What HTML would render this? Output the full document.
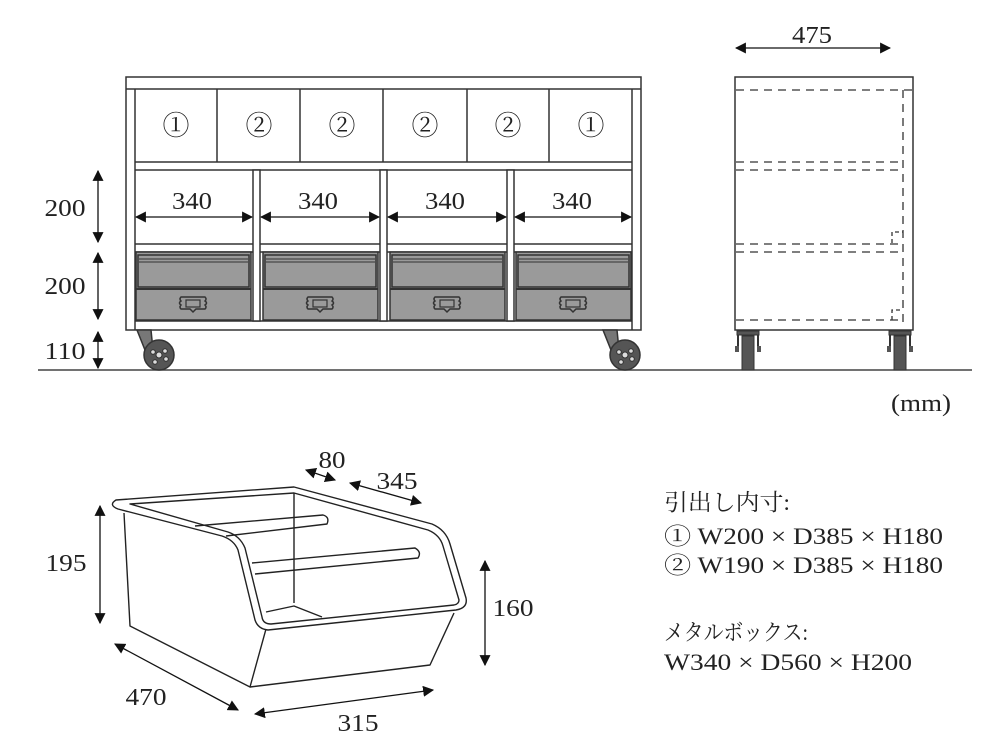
<!DOCTYPE html>
<html><head><meta charset="utf-8"><style>
html,body{margin:0;padding:0;background:#fff;}
svg{display:block;}
text{font-family:"Liberation Serif","Noto Serif CJK SC",serif;fill:#222;}
</style></head><body>
<svg width="1000" height="750" viewBox="0 0 1000 750" xmlns="http://www.w3.org/2000/svg">
<defs>
<marker id="a" viewBox="0 0 10 10" refX="9" refY="5" markerWidth="11" markerHeight="11" markerUnits="userSpaceOnUse" orient="auto-start-reverse"><path d="M0,0L10,5L0,10z" fill="#111"/></marker>
<g id="mbox">
<rect x="0" y="0" width="115" height="68" fill="#9a9a9a" stroke="#333" stroke-width="1.5"/>
<path d="M2,3 H113 V35 H2 Z" fill="#9a9a9a" stroke="#333" stroke-width="1.5"/>
<line x1="3" y1="7" x2="112" y2="7" stroke="#333" stroke-width="1"/>
<line x1="3" y1="10" x2="112" y2="10" stroke="#333" stroke-width="1"/>
<line x1="0" y1="37" x2="115" y2="37" stroke="#333" stroke-width="2"/>
<path d="M45,45 H69 q2,2 0,4 q3,2 0,4 q2,2 0,4 H60 l-3,3 l-3,-3 H45 q-2,-2 0,-4 q-3,-2 0,-4 q-2,-2 0,-4z" fill="#9a9a9a" stroke="#333" stroke-width="1.5"/>
<rect x="50" y="48" width="14" height="7" fill="none" stroke="#333" stroke-width="1.2"/>
</g>
<g id="wheel">
<path d="M-22,-25 L-8,-25 L-6,-5 L-12,0z" fill="#777" stroke="#333" stroke-width="1.5"/>
<circle cx="0" cy="0" r="15" fill="#555" stroke="#333" stroke-width="1.5"/>
<circle cx="0" cy="0" r="3" fill="#ddd" stroke="#333"/>
<circle cx="-6" cy="-3" r="2.3" fill="#ddd" stroke="#333"/>
<circle cx="6" cy="-4" r="2.3" fill="#ddd" stroke="#333"/>
<circle cx="7" cy="4" r="2.3" fill="#ddd" stroke="#333"/>
<circle cx="-4" cy="7" r="2.3" fill="#ddd" stroke="#333"/>
</g>
<g id="caster">
<rect x="-11" y="1" width="22" height="4" fill="#555" stroke="#333"/>
<path d="M-10,5 V20 M10,5 V20" stroke="#333" stroke-width="2" fill="none"/>
<rect x="-6" y="6" width="12" height="34" fill="#555" stroke="#333"/>
<rect x="-13" y="16" width="4" height="6" fill="#555"/><rect x="9" y="16" width="4" height="6" fill="#555"/>
</g>
</defs>

<line x1="38" y1="370" x2="972" y2="370" stroke="#444" stroke-width="1.5"/>

<g stroke="#333" stroke-width="1.5" fill="#fff">
<rect x="126" y="77" width="515" height="253"/>
<line x1="126" y1="89" x2="641" y2="89"/>
<line x1="135" y1="89" x2="135" y2="330"/>
<line x1="632" y1="89" x2="632" y2="330"/>
<line x1="135" y1="162" x2="632" y2="162"/>
<line x1="135" y1="170" x2="632" y2="170"/>
<line x1="135" y1="244" x2="632" y2="244"/>
<line x1="135" y1="252" x2="632" y2="252"/>
<line x1="135" y1="321" x2="632" y2="321"/>
<line x1="217" y1="89" x2="217" y2="162"/>
<line x1="300" y1="89" x2="300" y2="162"/>
<line x1="383" y1="89" x2="383" y2="162"/>
<line x1="467" y1="89" x2="467" y2="162"/>
<line x1="549" y1="89" x2="549" y2="162"/>
<rect x="253" y="170" width="7" height="151"/>
<rect x="380" y="170" width="7" height="151"/>
<rect x="507" y="170" width="7" height="151"/>
</g>
<use href="#mbox" x="136" y="252"/>
<use href="#mbox" x="263" y="252"/>
<use href="#mbox" x="390" y="252"/>
<use href="#mbox" x="516" y="252"/>
<use href="#wheel" x="159" y="355"/>
<use href="#wheel" x="625" y="355"/>
<g font-size="27" text-anchor="middle">
<text x="176" y="135">①</text><text x="259" y="135">②</text><text x="342" y="135">②</text><text x="425" y="135">②</text><text x="508" y="135">②</text><text x="591" y="135">①</text>
</g>
<g stroke="#111" stroke-width="1.3" marker-start="url(#a)" marker-end="url(#a)">
<line x1="136" y1="217" x2="252" y2="217"/>
<line x1="261" y1="217" x2="379" y2="217"/>
<line x1="388" y1="217" x2="506" y2="217"/>
<line x1="515" y1="217" x2="631" y2="217"/>
<line x1="98" y1="171" x2="98" y2="242"/>
<line x1="98" y1="253" x2="98" y2="319"/>
<line x1="98" y1="332" x2="98" y2="368"/>
<line x1="736" y1="48" x2="890" y2="48"/>
</g>
<g font-size="24" text-anchor="middle">
<text x="192" y="209" textLength="40" lengthAdjust="spacingAndGlyphs">340</text>
<text x="318" y="209" textLength="40" lengthAdjust="spacingAndGlyphs">340</text>
<text x="445" y="209" textLength="40" lengthAdjust="spacingAndGlyphs">340</text>
<text x="572" y="209" textLength="40" lengthAdjust="spacingAndGlyphs">340</text>
<text x="65" y="216" textLength="41" lengthAdjust="spacingAndGlyphs">200</text>
<text x="65" y="294" textLength="41" lengthAdjust="spacingAndGlyphs">200</text>
<text x="65" y="359" textLength="41" lengthAdjust="spacingAndGlyphs">110</text>
<text x="812" y="43" textLength="40" lengthAdjust="spacingAndGlyphs">475</text>
<text x="921" y="411" textLength="60" lengthAdjust="spacingAndGlyphs">(mm)</text>
</g>

<rect x="735" y="77" width="178" height="253" fill="#fff" stroke="#333" stroke-width="1.5"/>
<g stroke="#333" stroke-width="1.3" stroke-dasharray="8,6" fill="none">
<path d="M736,90 H913"/>
<path d="M903,90 V328"/>
<path d="M736,162 H903 M736,170 H903"/>
<path d="M736,244 H903 M736,252 H903"/>
<path d="M736,320 H903"/>
<path d="M892,243 V232 H903 M892,320 V310 H903" stroke-dasharray="4,3"/>
</g>
<use href="#caster" x="748" y="330"/>
<use href="#caster" x="900" y="330"/>

<g stroke="#222" stroke-width="1.4" fill="none" stroke-linejoin="round">
<path d="M116,500 L294,487 L432,524 Q446,530 450,544 L466,598 Q468,608 456,610 L268,630 Q258,629 255,620 L238,550 Q234,540 222,536 L118,509 Q108,505 116,500Z"/>
<path d="M130,504 L294,493 L428,530 Q440,535 443,546 L459,600 Q459,604 454,605 L271,624 Q263,624 262,617 L245,548 Q240,536 228,532 Z"/>
<line x1="294" y1="493" x2="294" y2="603"/>
<path d="M266,612 L294,606 L322,617"/>
<path d="M124,513 L130,626 L250,687 L266,629"/>
<path d="M250,687 L430,665 L454,613"/>
<path d="M195,526 L323,515 Q330,517 327,524 L226,536"/>
<path d="M252,563 L415,548 Q422,552 418,558 L255,574"/>
</g>
<g stroke="#111" stroke-width="1.3" marker-start="url(#a)" marker-end="url(#a)">
<line x1="100" y1="506" x2="100" y2="623"/>
<line x1="485" y1="561" x2="485" y2="665"/>
<line x1="115" y1="644" x2="238" y2="710"/>
<line x1="255" y1="714" x2="433" y2="690"/>
<line x1="306" y1="470" x2="335" y2="480"/>
<line x1="350" y1="483" x2="421" y2="503"/>
</g>
<g font-size="24" text-anchor="middle">
<text x="66" y="571" textLength="41" lengthAdjust="spacingAndGlyphs">195</text>
<text x="513" y="616" textLength="41" lengthAdjust="spacingAndGlyphs">160</text>
<text x="146" y="705" textLength="41" lengthAdjust="spacingAndGlyphs">470</text>
<text x="358" y="731" textLength="41" lengthAdjust="spacingAndGlyphs">315</text>
<text x="332" y="468" textLength="27" lengthAdjust="spacingAndGlyphs">80</text>
<text x="397" y="489" textLength="41" lengthAdjust="spacingAndGlyphs">345</text>
</g>
<g font-size="23">
<text x="664" y="510" textLength="126" lengthAdjust="spacingAndGlyphs">引出し内寸:</text>
<text x="664" y="544" textLength="279" lengthAdjust="spacingAndGlyphs">① W200 × D385 × H180</text>
<text x="664" y="573" textLength="279" lengthAdjust="spacingAndGlyphs">② W190 × D385 × H180</text>
<text x="664" y="640" textLength="144" lengthAdjust="spacingAndGlyphs">メタルボックス:</text>
<text x="664" y="670" textLength="248" lengthAdjust="spacingAndGlyphs">W340 × D560 × H200</text>
</g>
</svg>
</body></html>
